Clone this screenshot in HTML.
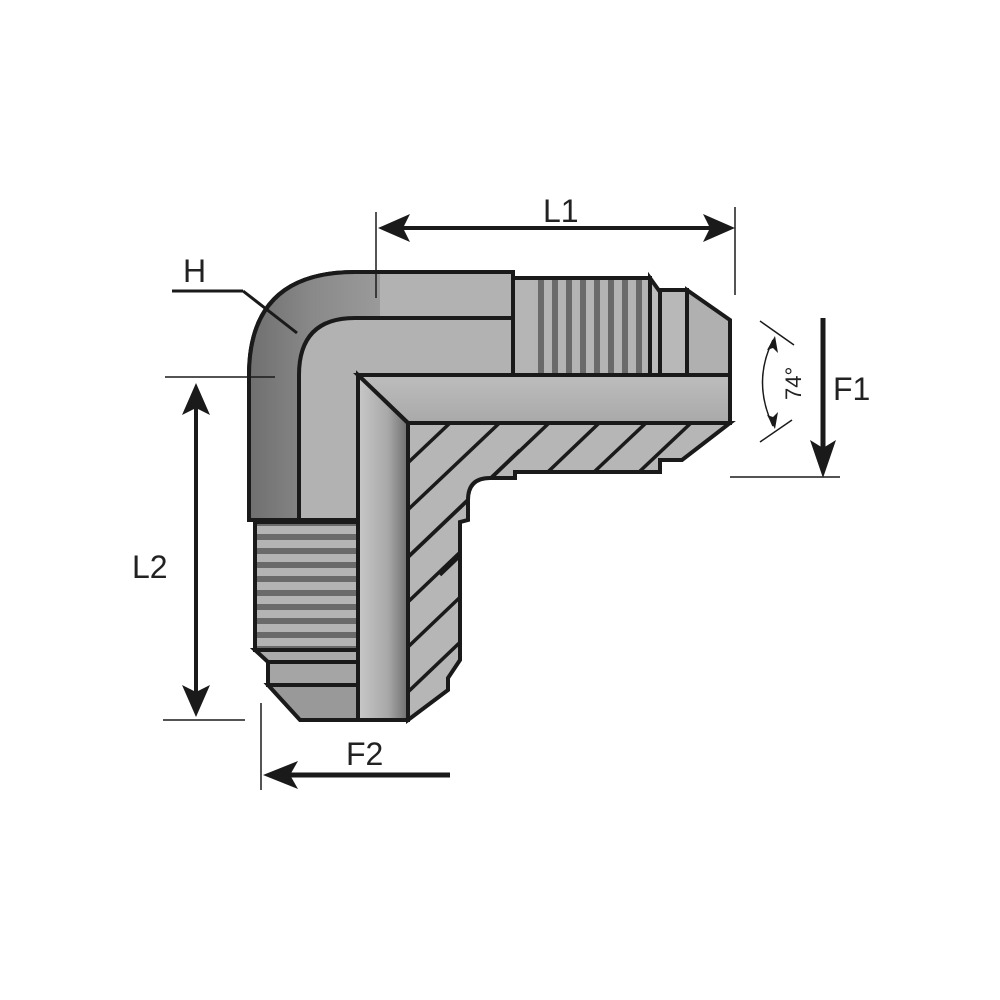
<!DOCTYPE html>
<html><head><style>html,body{margin:0;padding:0;background:#fff}svg{display:block}text{font-family:"Liberation Sans",sans-serif;fill:#222}</style></head>
<body>
<svg width="1000" height="1000" viewBox="0 0 1000 1000" xmlns="http://www.w3.org/2000/svg">
<defs>
<linearGradient id="gv" x1="0" x2="1" y1="0" y2="0"><stop offset="0" stop-color="#6f6f6f"/><stop offset="0.5" stop-color="#8a8a8a"/><stop offset="1" stop-color="#9a9a9a"/></linearGradient>
<linearGradient id="bore" x1="0" x2="1"><stop offset="0" stop-color="#c8c8c8"/><stop offset="0.6" stop-color="#a8a8a8"/><stop offset="1" stop-color="#6e6e6e"/></linearGradient>
<linearGradient id="boreh" x1="0" x2="0" y1="0" y2="1"><stop offset="0" stop-color="#bdbdbd"/><stop offset="1" stop-color="#a9a9a9"/></linearGradient>
<pattern id="thv" width="14" height="100" patternUnits="userSpaceOnUse" x="520"><rect width="14" height="100" fill="#b4b4b4"/><rect x="4" width="6" height="100" fill="#6a6a6a"/></pattern>
<pattern id="thh" width="100" height="14" patternUnits="userSpaceOnUse" y="530"><rect width="100" height="14" fill="#b4b4b4"/><rect y="4" width="100" height="6" fill="#6a6a6a"/></pattern>
<clipPath id="hc"><path d="M408 423 L730 423 L682 460 L660 460 L660 472 L515 472 L515 478 L490 478 Q468 478 468 500 L468 520 L460 522 L460 660 L448 678 L448 690 L408 720 Z"/></clipPath>
</defs>
<g stroke="#1a1a1a" stroke-width="4" stroke-linejoin="miter">
<path d="M249 520 L249 375 Q249 272 355 272 L513 272 L513 375 L358 375 L358 520 Z" fill="#b2b2b2"/>
<path d="M249 520 L249 375 Q249 272 355 272 L380 272 L380 318 L355 318 Q299 318 299 375 L299 520 Z" fill="url(#gv)" stroke="none"/>
<path d="M249 520 L249 375 Q249 272 355 272 L513 272 L513 375 L358 375 L358 520 Z" fill="none"/>
<path d="M512 318 L355 318 Q299 318 299 375 L299 520" fill="none"/>
<rect x="513" y="278" width="137" height="97" fill="url(#thv)"/>
<rect x="513" y="278" width="22" height="97" fill="#b5b5b5" stroke="none"/>
<rect x="513" y="278" width="137" height="97" fill="none"/>
<path d="M650 278 L660 292 L660 375 L650 375 Z" fill="#bbb"/>
<rect x="660" y="290" width="27" height="85" fill="#b8b8b8"/>
<path d="M687 290 L730 320 L730 375 L687 375 Z" fill="#b0b0b0"/>
<rect x="255" y="522" width="103" height="128" fill="url(#thh)"/>
<path d="M255 650 L268 662 L358 662 L358 650 Z" fill="#aaa"/>
<rect x="268" y="662" width="90" height="23" fill="#a5a5a5"/>
<path d="M268 685 L300 720 L358 720 L358 685 Z" fill="#999"/>
<path d="M408 423 L730 423 L682 460 L660 460 L660 472 L515 472 L515 478 L490 478 Q468 478 468 500 L468 520 L460 522 L460 660 L448 678 L448 690 L408 720 Z" fill="#b6b6b6"/>
<g clip-path="url(#hc)" stroke-width="3.5">
<line x1="300" y1="565" x2="450" y2="423"/><line x1="300" y1="612" x2="510" y2="413"/><line x1="400" y1="565" x2="570" y2="403"/>
<line x1="440" y1="575" x2="618" y2="405"/><line x1="485" y1="575" x2="665" y2="405"/><line x1="530" y1="575" x2="710" y2="405"/>
<line x1="575" y1="575" x2="755" y2="405"/><line x1="300" y1="660" x2="520" y2="450"/><line x1="300" y1="705" x2="520" y2="495"/>
<line x1="300" y1="750" x2="520" y2="540"/><line x1="300" y1="795" x2="520" y2="585"/>
</g>
<path d="M358 375 L730 375 L730 423 L408 423 Z" fill="url(#boreh)"/>
<path d="M358 375 L408 423 L408 720 L358 720 Z" fill="url(#bore)"/>
</g>
<g stroke="#1a1a1a" fill="none">
<line x1="376" y1="212" x2="376" y2="298" stroke-width="1.5"/>
<line x1="735" y1="207" x2="735" y2="295" stroke-width="1.5"/>
<line x1="395" y1="228" x2="716" y2="228" stroke-width="4"/>
<line x1="172" y1="291" x2="243" y2="291" stroke-width="3"/>
<line x1="243" y1="291" x2="297" y2="333" stroke-width="3"/>
<line x1="165" y1="377" x2="275" y2="377" stroke-width="1.5"/>
<line x1="163" y1="720" x2="245" y2="720" stroke-width="1.5"/>
<line x1="196" y1="400" x2="196" y2="700" stroke-width="4"/>
<line x1="823" y1="318" x2="823" y2="450" stroke-width="5"/>
<line x1="730" y1="477" x2="840" y2="477" stroke-width="1.5"/>
<line x1="261" y1="703" x2="261" y2="790" stroke-width="1.5"/>
<line x1="285" y1="775" x2="450" y2="775" stroke-width="5"/>
<line x1="760" y1="321" x2="794" y2="345" stroke-width="1.5"/>
<line x1="760" y1="442" x2="792" y2="420" stroke-width="1.5"/>
<path d="M773 340 Q752 382 773 426" stroke-width="1.5"/>
</g>
<g fill="#1a1a1a">
<path d="M378 228 L410 214 L403 228 L410 242 Z"/>
<path d="M735 228 L703 214 L710 228 L703 242 Z"/>
<path d="M196 383 L182 415 L196 408 L210 415 Z"/>
<path d="M196 717 L182 685 L196 692 L210 685 Z"/>
<path d="M823 478 L810 440 L823 448 L836 440 Z"/>
<path d="M263 775 L298 761 L290 775 L298 789 Z"/>
<path d="M775 336 L767 350 L773 348 L778 353 Z"/>
<path d="M775 429 L767 415 L773 417 L778 412 Z"/>
</g>
<text x="543" y="222" font-size="32">L1</text>
<text x="183" y="282" font-size="32">H</text>
<text x="132" y="578" font-size="32">L2</text>
<text x="833" y="400" font-size="32">F1</text>
<text x="346" y="765" font-size="32">F2</text>
<text x="0" y="0" font-size="22" transform="translate(801,400) rotate(-90)">74°</text>
</svg>
</body></html>
